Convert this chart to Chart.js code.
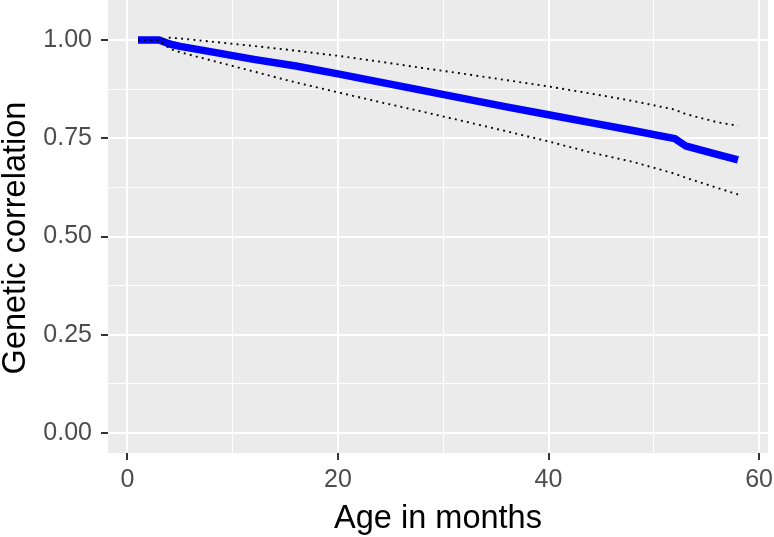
<!DOCTYPE html>
<html>
<head>
<meta charset="utf-8">
<script src="https://cdn.jsdelivr.net/npm/chart.js@4"></script>
<style>
  html, body { margin: 0; padding: 0; background: #fff; }
  canvas { display: block; }
</style>
</head>
<body>
<canvas id="chart" width="774" height="537"></canvas>
<script>
// Age (months) and genetic correlation with its interval bounds
const months = [1, 2, 3, 4, 5, 8, 12, 16, 20, 24, 28, 32, 36, 40, 44, 48, 52, 53, 56, 58];
const corr   = [1.000, 1.000, 1.000, 0.990, 0.984, 0.970, 0.951, 0.934, 0.914, 0.893, 0.872, 0.851, 0.830, 0.810, 0.790, 0.770, 0.749, 0.731, 0.709, 0.695];
const upper  = [1.000, 1.000, 1.000, 1.006, 1.004, 0.996, 0.985, 0.973, 0.960, 0.945, 0.929, 0.914, 0.898, 0.882, 0.864, 0.845, 0.823, 0.812, 0.791, 0.782];
const lower  = [1.000, 1.000, 1.000, 0.978, 0.969, 0.948, 0.920, 0.892, 0.867, 0.842, 0.818, 0.793, 0.768, 0.742, 0.714, 0.690, 0.660, 0.650, 0.624, 0.607];

const xTicks = [0, 20, 40, 60];
const xMinor = [10, 30, 50];
const yTicks = [0, 0.25, 0.5, 0.75, 1];
const yMinor = [0.125, 0.375, 0.625, 0.875];

const FONT = "'Liberation Sans', Arial, sans-serif";

function pts(ys) {
  return months.map((m, i) => ({ x: m, y: ys[i] }));
}

function setTicks(major, minor) {
  return scale => {
    scale.ticks = major.concat(minor).sort((a, b) => a - b).map(v => ({ value: v }));
  };
}

// grey panel behind the grid
const panelBg = {
  id: 'panelBg',
  beforeDraw(chart) {
    const a = chart.chartArea, c = chart.ctx;
    c.save();
    c.fillStyle = '#EBEBEB';
    c.fillRect(a.left, a.top, a.right - a.left, a.bottom - a.top);
    c.restore();
  }
};

// axis titles placed like ggplot
const axisTitles = {
  id: 'axisTitles',
  afterDraw(chart) {
    const a = chart.chartArea, c = chart.ctx;
    c.save();
    c.fillStyle = '#000';
    c.font = '32.5px ' + FONT;
    c.textAlign = 'center';
    c.textBaseline = 'alphabetic';
    c.fillText('Age in months', (a.left + a.right) / 2, 528);
    c.translate(25, 238);
    c.rotate(-Math.PI / 2);
    c.fillText('Genetic correlation', 0, 0);
    c.restore();
  }
};

new Chart(document.getElementById('chart'), {
  type: 'line',
  data: {
    datasets: [
      { label: 'upper', data: pts(upper), borderColor: '#000', borderWidth: 1.9,
        borderDash: [1.9, 4.3], pointRadius: 0, fill: false, tension: 0 },
      { label: 'lower', data: pts(lower), borderColor: '#000', borderWidth: 1.9,
        borderDash: [1.9, 4.3], pointRadius: 0, fill: false, tension: 0 },
      { label: 'corr', data: pts(corr), borderColor: '#0000FF', borderWidth: 7.5,
        borderCapStyle: 'butt', borderJoinStyle: 'round', pointRadius: 0, fill: false, tension: 0 }
    ]
  },
  options: {
    responsive: false,
    animation: false,
    devicePixelRatio: 1,
    layout: { autoPadding: false, padding: { top: 0, right: 6, left: 0, bottom: 0 } },
    plugins: { legend: { display: false }, tooltip: { enabled: false } },
    scales: {
      x: {
        type: 'linear',
        min: -1.85,
        max: 60.85,
        afterBuildTicks: setTicks(xTicks, xMinor),
        afterFit: s => { s.height = 84; s.paddingLeft = 0; s.paddingRight = 0; },
        border: { display: false },
        grid: {
          color: '#FFFFFF',
          lineWidth: c => xTicks.includes(c.tick.value) ? 2 : 1,
          drawTicks: true,
          tickLength: 7,
          tickWidth: 2,
          tickColor: c => xTicks.includes(c.tick.value) ? '#333333' : 'rgba(0,0,0,0)'
        },
        ticks: {
          autoSkip: false,
          maxRotation: 0,
          padding: 5,
          color: '#4D4D4D',
          font: { family: FONT, size: 25 },
          callback: v => xTicks.includes(v) ? String(v) : ''
        }
      },
      y: {
        type: 'linear',
        min: -0.051,
        max: 1.102,
        afterBuildTicks: setTicks(yTicks, yMinor),
        afterFit: s => { s.width = 108; s.paddingTop = 0; s.paddingBottom = 0; },
        border: { display: false },
        grid: {
          color: '#FFFFFF',
          lineWidth: c => yTicks.includes(c.tick.value) ? 2 : 1,
          drawTicks: true,
          tickLength: 7,
          tickWidth: 2,
          tickColor: c => yTicks.includes(c.tick.value) ? '#333333' : 'rgba(0,0,0,0)'
        },
        ticks: {
          autoSkip: false,
          padding: 9,
          color: '#4D4D4D',
          font: { family: FONT, size: 25 },
          callback: v => yTicks.includes(v) ? v.toFixed(2) : ''
        }
      }
    }
  },
  plugins: [panelBg, axisTitles]
});
</script>
</body>
</html>
